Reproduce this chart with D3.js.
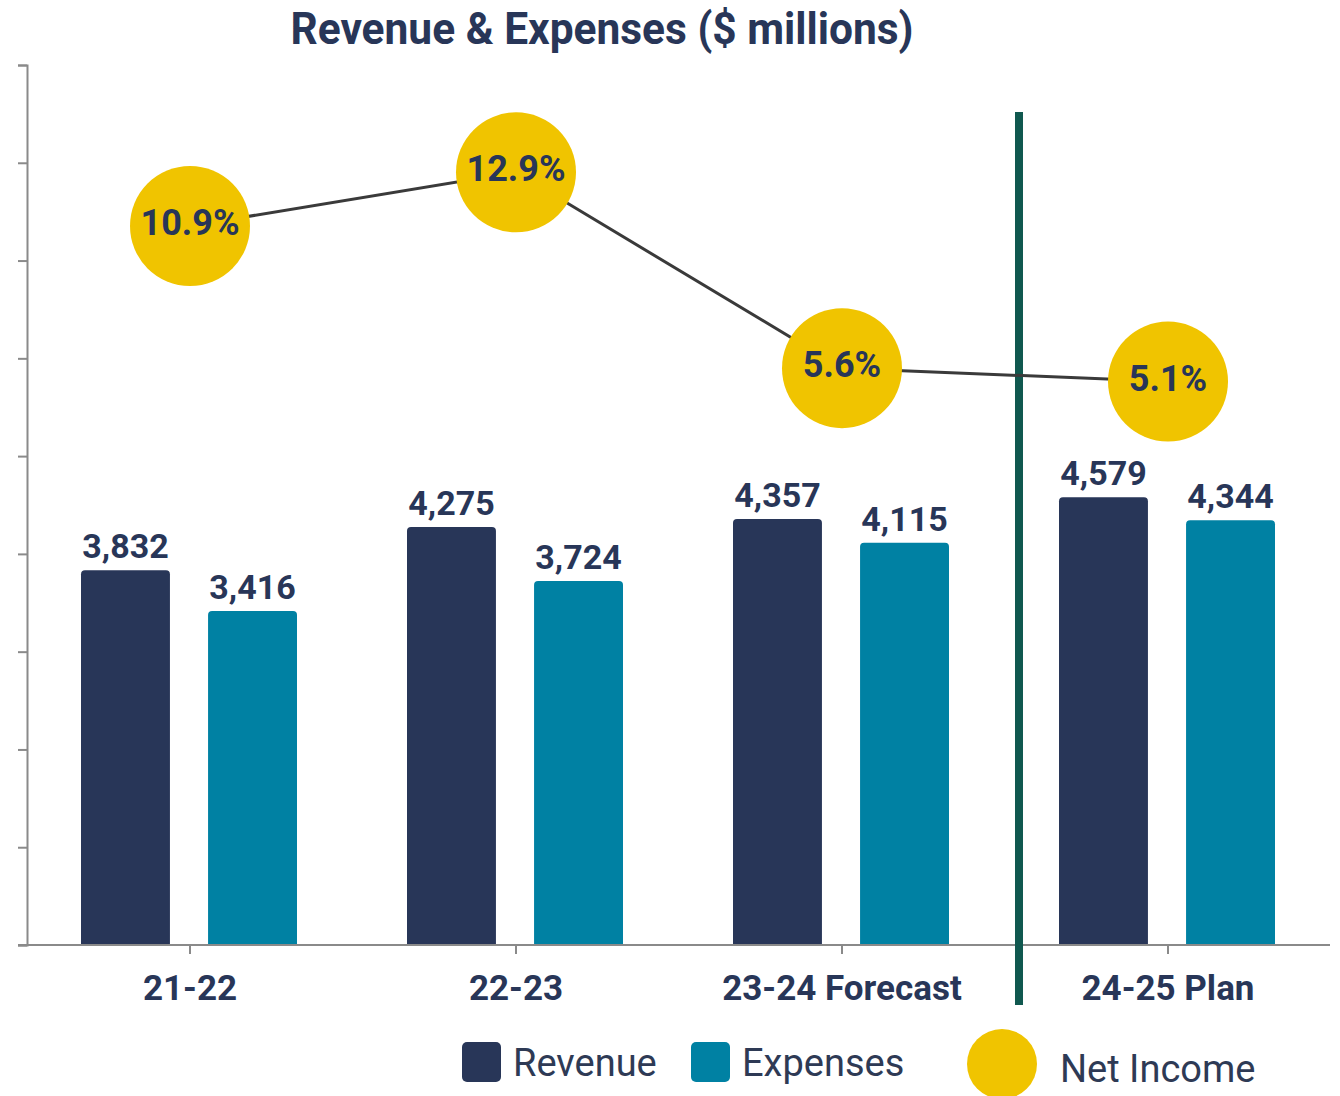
<!DOCTYPE html>
<html>
<head>
<meta charset="utf-8">
<script src="https://cdn.jsdelivr.net/npm/d3@7"></script>
<style>
  body { margin: 0; background: #fff; }
  svg { display: block; }
</style>
</head>
<body>
<script>
const categories = ["21-22", "22-23", "23-24 Forecast", "24-25 Plan"];
const seriesNames = ["Revenue", "Expenses"];
const revenue = [3832, 4275, 4357, 4579];
const expenses = [3416, 3724, 4115, 4344];
const netIncome = [10.9, 12.9, 5.6, 5.1];
const yTicks = [0, 1000, 2000, 3000, 4000, 5000, 6000, 7000, 8000, 9000];

const W = 1340, H = 1096;
const navy = "#283658", teal = "#0081a3", gold = "#f0c400";
const colors = { Revenue: navy, Expenses: teal };

const svg = d3.select("body").append("svg")
    .attr("width", W)
    .attr("height", H);

const baseY = 945, topY = 65;
const x = d3.scaleBand().domain(categories).range([27, 1331]).padding(0);
const x1 = d3.scaleBand().domain(seriesNames).range([54, 270]).paddingInner(0.3).paddingOuter(0);
const y = d3.scaleLinear().domain([0, 9000]).range([baseY, topY]);
const y2 = d3.scaleLinear().domain([-15.9, 16.9]).range([baseY, topY]);

// title
svg.append("text")
    .attr("x", 602).attr("y", 44)
    .attr("text-anchor", "middle")
    .attr("textLength", 623)
    .attr("lengthAdjust", "spacingAndGlyphs")
    .attr("font-family", "Roboto, 'Noto Sans', sans-serif")
    .attr("font-weight", "bold")
    .attr("font-size", 44)
    .attr("fill", navy)
    .text("Revenue & Expenses ($ millions)");

// y axis (no labels)
const yAxis = svg.append("g")
    .attr("transform", "translate(27,0)")
    .call(d3.axisLeft(y).tickValues(yTicks).tickSize(9).tickFormat(""));
yAxis.select(".domain").attr("stroke", "#8a8a8a").attr("stroke-width", 2);
yAxis.selectAll(".tick line").attr("stroke", "#8a8a8a").attr("stroke-width", 2);

// bars
const rows = categories.map((c, i) => ({ cat: c, Revenue: revenue[i], Expenses: expenses[i] }));

function topRounded(x0, y0, w, h, r) {
  return `M${x0},${y0 + h} V${y0 + r} Q${x0},${y0} ${x0 + r},${y0} H${x0 + w - r} Q${x0 + w},${y0} ${x0 + w},${y0 + r} V${y0 + h} Z`;
}

const groups = svg.selectAll("g.grp").data(rows).enter().append("g")
    .attr("class", "grp")
    .attr("transform", d => `translate(${x(d.cat)},0)`);

groups.selectAll("path").data(d => seriesNames.map(s => ({ s, v: d[s] })))
    .enter().append("path")
    .attr("d", d => topRounded(x1(d.s), y(d.v), x1.bandwidth(), baseY - y(d.v), 4))
    .attr("fill", d => colors[d.s]);

groups.selectAll("text").data(d => seriesNames.map(s => ({ s, v: d[s] })))
    .enter().append("text")
    .attr("x", d => x1(d.s) + x1.bandwidth() / 2)
    .attr("y", d => y(d.v) - 12)
    .attr("text-anchor", "middle")
    .attr("font-family", "Roboto, sans-serif")
    .attr("font-weight", "bold")
    .attr("font-size", 34)
    .attr("fill", navy)
    .text(d => d3.format(",")(d.v));

// x axis
const xAxis = svg.append("g")
    .attr("transform", `translate(0,${baseY})`)
    .call(d3.axisBottom(x).tickSize(9).tickSizeOuter(0).tickFormat(""));
xAxis.select(".domain").attr("d", "M18,0H1330").attr("stroke", "#8a8a8a").attr("stroke-width", 2);
xAxis.selectAll(".tick line").attr("stroke", "#8a8a8a").attr("stroke-width", 2);

svg.selectAll("text.cat").data(categories).enter().append("text")
    .attr("class", "cat")
    .attr("x", d => x(d) + x.bandwidth() / 2)
    .attr("y", 1000)
    .attr("text-anchor", "middle")
    .attr("font-family", "Roboto, sans-serif")
    .attr("font-weight", "bold")
    .attr("font-size", 35)
    .attr("fill", navy)
    .text(d => d);

// divider between forecast and plan
svg.append("line")
    .attr("x1", x(categories[3]) + 14).attr("x2", x(categories[3]) + 14)
    .attr("y1", 112).attr("y2", 1005)
    .attr("stroke", "#10584f")
    .attr("stroke-width", 8);

// net income line + markers
const pts = categories.map((c, i) => ({ cx: x(c) + x.bandwidth() / 2, cy: y2(netIncome[i]), v: netIncome[i] }));

svg.append("path")
    .datum(pts)
    .attr("d", d3.line().x(d => d.cx).y(d => d.cy))
    .attr("fill", "none")
    .attr("stroke", "#3a3a3a")
    .attr("stroke-width", 3);

svg.selectAll("circle.ni").data(pts).enter().append("circle")
    .attr("class", "ni")
    .attr("cx", d => d.cx)
    .attr("cy", d => d.cy)
    .attr("r", 60)
    .attr("fill", gold);

svg.selectAll("text.ni").data(pts).enter().append("text")
    .attr("class", "ni")
    .attr("x", d => d.cx)
    .attr("y", d => d.cy - 4)
    .attr("dy", "0.36em")
    .attr("text-anchor", "middle")
    .attr("font-family", "Roboto, sans-serif")
    .attr("font-weight", "bold")
    .attr("font-size", 36)
    .attr("fill", navy)
    .text(d => d.v.toFixed(1) + "%");

// legend
const legendBars = [
  { name: "Revenue", color: navy, x: 462, tx: 513 },
  { name: "Expenses", color: teal, x: 691, tx: 742 }
];
svg.selectAll("rect.leg").data(legendBars).enter().append("rect")
    .attr("class", "leg")
    .attr("x", d => d.x).attr("y", 1042)
    .attr("width", 39).attr("height", 40)
    .attr("rx", 5)
    .attr("fill", d => d.color);
svg.selectAll("text.leg").data(legendBars).enter().append("text")
    .attr("class", "leg")
    .attr("x", d => d.tx).attr("y", 1076)
    .attr("font-family", "Roboto, sans-serif")
    .attr("font-size", 38)
    .attr("fill", "#2e3a55")
    .text(d => d.name);

svg.append("circle")
    .attr("cx", 1002).attr("cy", 1064).attr("r", 35)
    .attr("fill", gold);
svg.append("text")
    .attr("x", 1060).attr("y", 1082)
    .attr("font-family", "Roboto, sans-serif")
    .attr("font-size", 38)
    .attr("fill", "#2e3a55")
    .text("Net Income");
</script>
</body>
</html>
